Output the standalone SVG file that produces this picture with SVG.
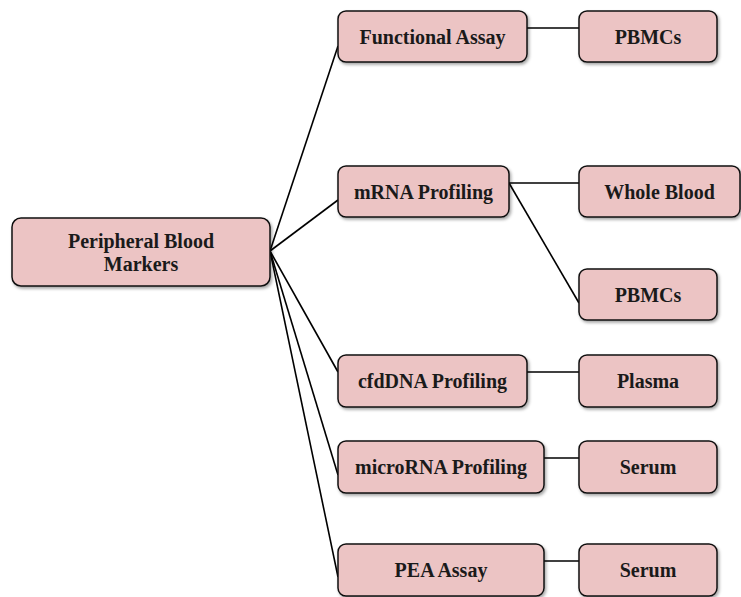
<svg xmlns="http://www.w3.org/2000/svg" width="741" height="597" viewBox="0 0 741 597">
<defs>
<filter id="sh" x="-10%" y="-10%" width="130%" height="140%">
<feDropShadow dx="1.5" dy="2" stdDeviation="1.5" flood-color="#000" flood-opacity="0.35"/>
</filter>
</defs>
<style>
.box{fill:#ECC4C4;stroke:#111;stroke-width:1.5;filter:url(#sh)}
.t{font-family:"Liberation Serif","DejaVu Serif",serif;font-weight:bold;font-size:20px;fill:#1a1a1a;text-anchor:middle}
.c{stroke:#000;stroke-width:1.6;fill:none}
</style>
<rect width="741" height="597" fill="#fff"/>
<g id="connectors">
<line class="c" x1="270" y1="251" x2="338" y2="46"/>
<line class="c" x1="270" y1="251" x2="338" y2="200"/>
<line class="c" x1="270" y1="251" x2="338" y2="372"/>
<line class="c" x1="270" y1="251" x2="338" y2="475"/>
<line class="c" x1="270" y1="251" x2="338" y2="577"/>
<line class="c" x1="527" y1="28" x2="579" y2="28"/>
<line class="c" x1="509" y1="183" x2="579" y2="183"/>
<line class="c" x1="509" y1="183" x2="579" y2="303"/>
<line class="c" x1="527" y1="372" x2="579" y2="372"/>
<line class="c" x1="544" y1="458" x2="579" y2="458"/>
<line class="c" x1="544" y1="561" x2="579" y2="561"/>
</g>
<g id="root"><rect class="box" x="12" y="218" width="258" height="68" rx="9"/>
<text class="t" x="141" y="248">Peripheral Blood</text><text class="t" x="141" y="271">Markers</text></g>
<g id="functional"><rect class="box" x="338" y="11" width="189" height="51" rx="8"/><text class="t" x="432.5" y="44">Functional Assay</text></g>
<g id="pbmcs1"><rect class="box" x="579" y="11" width="138" height="51" rx="8"/><text class="t" x="648" y="44">PBMCs</text></g>
<g id="mrna"><rect class="box" x="338" y="166" width="171" height="51" rx="8"/><text class="t" x="423.5" y="199">mRNA Profiling</text></g>
<g id="wholeblood"><rect class="box" x="579" y="166" width="161" height="51" rx="8"/><text class="t" x="659.5" y="199">Whole Blood</text></g>
<g id="pbmcs2"><rect class="box" x="579" y="269" width="138" height="51" rx="8"/><text class="t" x="648" y="302">PBMCs</text></g>
<g id="cfdna"><rect class="box" x="338" y="355" width="189" height="52" rx="8"/><text class="t" x="432.5" y="388">cfdDNA Profiling</text></g>
<g id="plasma"><rect class="box" x="579" y="355" width="138" height="52" rx="8"/><text class="t" x="648" y="388">Plasma</text></g>
<g id="microrna"><rect class="box" x="338" y="441" width="206" height="52" rx="8"/><text class="t" x="441" y="474">microRNA Profiling</text></g>
<g id="serum1"><rect class="box" x="579" y="441" width="138" height="52" rx="8"/><text class="t" x="648" y="474">Serum</text></g>
<g id="pea"><rect class="box" x="338" y="544" width="206" height="52" rx="8"/><text class="t" x="441" y="577">PEA Assay</text></g>
<g id="serum2"><rect class="box" x="579" y="544" width="138" height="52" rx="8"/><text class="t" x="648" y="577">Serum</text></g>
</svg>
